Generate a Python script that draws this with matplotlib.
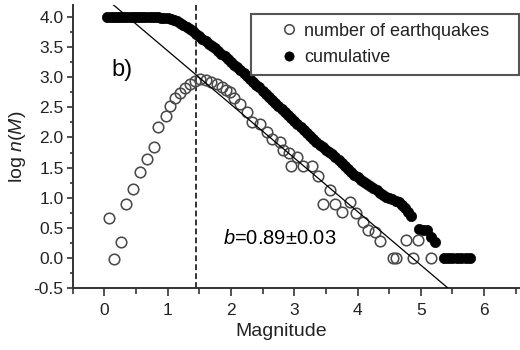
import matplotlib
matplotlib.use("Agg")
import matplotlib.pyplot as plt
import numpy as np
from matplotlib.ticker import MultipleLocator

plt.rcParams['font.family'] = ['Liberation Sans', 'DejaVu Sans']
plt.rcParams['mathtext.fontset'] = 'custom'
plt.rcParams['mathtext.rm'] = 'Liberation Sans'
plt.rcParams['mathtext.it'] = 'Liberation Sans:italic'

# number of earthquakes per magnitude bin (log10)
mag_n = [0.07, 0.15, 0.26, 0.34, 0.46, 0.56, 0.67, 0.78, 0.85, 0.97,
         1.04, 1.12, 1.19, 1.27, 1.35, 1.43, 1.51, 1.60, 1.69, 1.78,
         1.86, 1.93, 1.98, 2.05, 2.14, 2.25, 2.33, 2.46, 2.57, 2.65,
         2.78, 2.83, 2.92, 2.95, 3.05, 3.14, 3.28, 3.37, 3.46, 3.57,
         3.64, 3.76, 3.88, 3.97, 4.08, 4.17, 4.27, 4.35, 4.56, 4.61,
         4.76, 4.87, 4.96, 5.16]
log_n = [0.67, -0.02, 0.27, 0.89, 1.14, 1.43, 1.64, 1.84, 2.17, 2.36,
         2.53, 2.65, 2.74, 2.82, 2.89, 2.94, 2.97, 2.95, 2.92, 2.89,
         2.84, 2.79, 2.75, 2.66, 2.55, 2.43, 2.26, 2.23, 2.09, 1.98,
         1.93, 1.79, 1.75, 1.53, 1.68, 1.53, 1.53, 1.36, 0.89, 1.13,
         0.90, 0.77, 0.92, 0.75, 0.59, 0.46, 0.43, 0.28, -0.01, -0.01,
         0.30, -0.01, 0.30, -0.01]

# cumulative number of earthquakes (log10)
mag_cum = [0.05, 0.10, 0.15, 0.20, 0.25, 0.30, 0.35, 0.40, 0.45, 0.50,
           0.55, 0.60, 0.65, 0.70, 0.75, 0.80, 0.85, 0.90, 0.95, 1.00,
           1.05, 1.10, 1.15, 1.20, 1.25, 1.30, 1.35, 1.40, 1.45, 1.50,
           1.55, 1.60, 1.65, 1.70, 1.75, 1.80, 1.85, 1.90, 1.95, 2.00,
           2.05, 2.10, 2.15, 2.20, 2.25, 2.30, 2.35, 2.40, 2.45, 2.50,
           2.55, 2.60, 2.65, 2.70, 2.75, 2.80, 2.85, 2.90, 2.95, 3.00,
           3.05, 3.10, 3.15, 3.20, 3.25, 3.30, 3.35, 3.40, 3.45, 3.50,
           3.55, 3.60, 3.65, 3.70, 3.75, 3.80, 3.85, 3.90, 3.95, 4.00,
           4.05, 4.10, 4.15, 4.20, 4.25, 4.30, 4.35, 4.40, 4.45, 4.50,
           4.55, 4.60, 4.65, 4.70, 4.75, 4.80, 4.85,
           4.97, 5.03, 5.09, 5.16, 5.22, 5.36, 5.43, 5.50, 5.57, 5.64,
           5.71, 5.78]
log_cum = [4.00, 4.00, 4.00, 4.00, 4.00, 4.00, 4.00, 4.00, 4.00, 4.00,
           4.00, 4.00, 4.00, 4.00, 4.00, 4.00, 4.00, 3.99, 3.99, 3.98,
           3.97, 3.95, 3.93, 3.90, 3.87, 3.84, 3.80, 3.76, 3.72, 3.68,
           3.64, 3.60, 3.56, 3.52, 3.48, 3.43, 3.39, 3.35, 3.30, 3.26,
           3.21, 3.17, 3.12, 3.07, 3.02, 2.97, 2.92, 2.87, 2.83, 2.78,
           2.73, 2.68, 2.63, 2.58, 2.53, 2.48, 2.43, 2.38, 2.33, 2.28,
           2.23, 2.18, 2.13, 2.08, 2.03, 1.98, 1.93, 1.88, 1.84, 1.80,
           1.76, 1.72, 1.67, 1.62, 1.57, 1.52, 1.47, 1.42, 1.38, 1.34,
           1.30, 1.26, 1.23, 1.20, 1.16, 1.12, 1.08, 1.04, 1.01, 0.99,
           0.97, 0.95, 0.93, 0.88, 0.83, 0.77, 0.70,
           0.48, 0.46, 0.46, 0.34, 0.27, 0.00, 0.00, 0.00, 0.00, 0.00,
           0.00, 0.00]

# Gutenberg-Richter fit and magnitude of completeness
b_value = 0.89
b_err = 0.03
a_value = 4.33
mc = 1.45

fig = plt.figure(figsize=(5.2, 3.5), dpi=100)
ax = fig.add_axes([72.65 / 520, 1 - 288 / 350, 446.3 / 520, 283 / 350])

ax.plot(mag_n, log_n, 'o', ls='none', ms=7.6, mfc='none', mec='#4a4a4a',
        mew=1.15, label='number of earthquakes', zorder=3)
ax.plot(mag_cum, log_cum, 'o', ls='none', ms=7.4, mfc='black', mec='black',
        mew=0.5, label='cumulative', zorder=2)

fit_x = np.array([0.0, 5.6])
ax.plot(fit_x, a_value - b_value * fit_x, color='black', lw=0.9, zorder=4)
ax.axvline(mc, color='#333333', lw=1.4, dashes=(3, 1.6), zorder=1)

ax.text(0.11, 3.12, 'b)', fontsize=17, va='center', ha='left')
ax.text(1.87, 0.33, r'$b$=%.2f±%.2f' % (b_value, b_err), fontsize=14.5,
        va='center', ha='left')

ax.set_xlim(-0.5, 6.55)
ax.set_ylim(-0.5, 4.2)
ax.xaxis.set_major_locator(MultipleLocator(1))
ax.xaxis.set_minor_locator(MultipleLocator(0.5))
ax.yaxis.set_major_locator(MultipleLocator(0.5))
ax.yaxis.set_minor_locator(MultipleLocator(0.25))
ax.yaxis.set_major_formatter(matplotlib.ticker.FormatStrFormatter('%.1f'))

for side in ('top', 'right'):
    ax.spines[side].set_visible(False)
for side in ('left', 'bottom'):
    ax.spines[side].set_color('#333333')
    ax.spines[side].set_linewidth(1.4)

ax.tick_params(axis='both', which='both', direction='out', color='#333333',
               width=1.2, labelsize=12.5, labelcolor='#222222')
ax.tick_params(axis='x', which='major', length=6, pad=5)
ax.tick_params(axis='x', which='minor', length=4)
ax.tick_params(axis='y', which='major', length=4.5, pad=2)
ax.tick_params(axis='y', which='minor', length=2.5)

ax.set_xlabel('Magnitude', fontsize=14, color='#222222')
ax.xaxis.set_label_coords(0.467, -0.125)
ax.set_ylabel('log $n$($M$)', fontsize=14, color='#222222', labelpad=4)

leg = ax.legend(loc='upper left', mode='expand',
                bbox_to_anchor=(251 / 520, 1 - 17 / 350, 268 / 520, 0.01),
                bbox_transform=fig.transFigure, borderaxespad=0,
                fontsize=13, frameon=True, fancybox=False, framealpha=1,
                handlelength=3.2, handletextpad=-0.75, borderpad=0.5,
                labelspacing=0.55, numpoints=1, markerscale=0.9)
leg.get_frame().set_edgecolor('#555555')
leg.get_frame().set_linewidth(1.5)
for t in leg.get_texts():
    t.set_color('#222222')

fig.savefig('out.png', dpi=100)
